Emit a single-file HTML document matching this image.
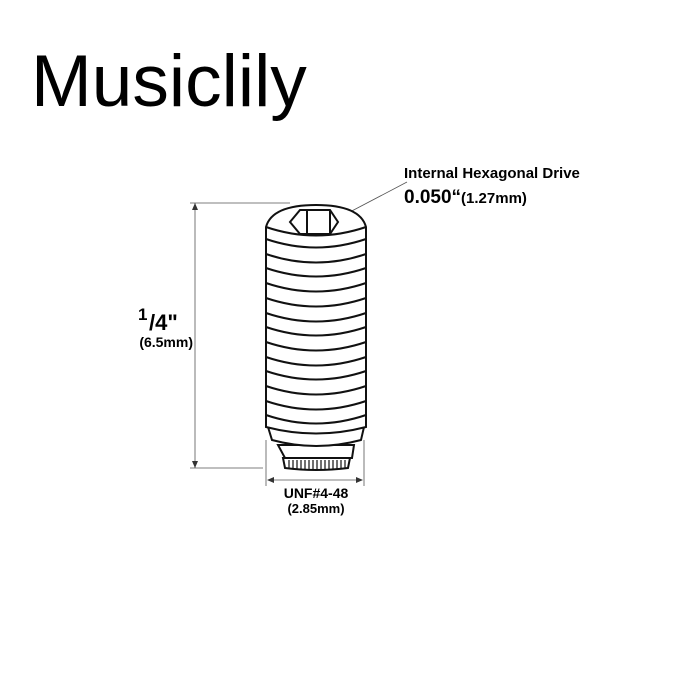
<!DOCTYPE html>
<html><head><style>
body{margin:0;background:#fff;}
svg{display:block;}
text{font-family:"Liberation Sans",Arial,sans-serif;}
</style></head><body>
<svg width="700" height="700" viewBox="0 0 700 700" xmlns="http://www.w3.org/2000/svg">
<text x="31" y="106" font-size="73" fill="#000">Musiclily</text>
<text x="404" y="178" font-size="15" font-weight="bold">Internal Hexagonal Drive</text>
<text x="404" y="203" font-size="19" font-weight="bold">0.050“<tspan font-size="15">(1.27mm)</tspan></text>
<text x="138" y="320" font-size="17" font-weight="bold">1</text>
<text x="149" y="330" font-size="22" font-weight="bold">/4"</text>
<text x="193" y="347" font-size="14" font-weight="bold" text-anchor="end">(6.5mm)</text>
<text x="316" y="498" font-size="14" font-weight="bold" text-anchor="middle">UNF#4-48</text>
<text x="316" y="513" font-size="13" font-weight="bold" text-anchor="middle">(2.85mm)</text>
<g stroke="#555" stroke-width="0.8" fill="none">
<line x1="195" y1="203" x2="195" y2="468"/>
<line x1="190" y1="203" x2="290" y2="203"/>
<line x1="190" y1="468" x2="263" y2="468"/>
<line x1="266" y1="440" x2="266" y2="486"/>
<line x1="364" y1="440" x2="364" y2="486"/>
<line x1="268" y1="480" x2="362" y2="480"/>
<line x1="407" y1="182" x2="327" y2="224"/>
</g>
<g fill="#333">
<polygon points="195,203 192,210 198,210"/>
<polygon points="195,468 192,461 198,461"/>
<polygon points="267,480 274,477 274,483"/>
<polygon points="363,480 356,477 356,483"/>
<polygon points="325,225 330,219 332,224"/>
</g>
<g stroke="#111" stroke-width="2" fill="#fff">
<path d="M278,445 L354,445 L352,458 L285,458 Z"/>
<path d="M283,458 L350,458 L348,468 Q316,472 285,468 Z"/>
<path d="M268,427 Q316,437 364,427 L361,440 Q316,452 272,440 Z"/>
<path d="M266,227 Q272,205 316,205 Q360,205 366,227 L366,427 Q316,440 266,427 Z"/>
<path d="M266,227 Q316,244 366,227" fill="none"/>
<path d="M290,222 L300,210 L330,210 L338,222 L330,234 L300,234 Z"/>
<line x1="307" y1="211" x2="307" y2="233"/>
<line x1="330" y1="210" x2="330" y2="234"/>
</g>
<g stroke="#111" stroke-width="2" fill="none">
<path d="M266,239 Q316,256 366,239"/>
<path d="M266,254 Q316,271 366,254"/>
<path d="M266,268 Q316,285 366,268"/>
<path d="M266,283 Q316,300 366,283"/>
<path d="M266,298 Q316,315 366,298"/>
<path d="M266,313 Q316,330 366,313"/>
<path d="M266,327 Q316,344 366,327"/>
<path d="M266,342 Q316,359 366,342"/>
<path d="M266,357 Q316,374 366,357"/>
<path d="M266,371 Q316,388 366,371"/>
<path d="M266,386 Q316,403 366,386"/>
<path d="M266,401 Q316,418 366,401"/>
<path d="M266,415 Q316,432 366,415"/>
</g>
<g stroke="#111" stroke-width="1.2">
<line x1="289" y1="460" x2="289" y2="468"/><line x1="293" y1="460" x2="293" y2="469"/>
<line x1="297" y1="460" x2="297" y2="469"/><line x1="301" y1="460" x2="301" y2="470"/>
<line x1="305" y1="460" x2="305" y2="470"/><line x1="309" y1="460" x2="309" y2="470"/>
<line x1="313" y1="460" x2="313" y2="470"/><line x1="317" y1="460" x2="317" y2="470"/>
<line x1="321" y1="460" x2="321" y2="470"/><line x1="325" y1="460" x2="325" y2="470"/>
<line x1="329" y1="460" x2="329" y2="470"/><line x1="333" y1="460" x2="333" y2="469"/>
<line x1="337" y1="460" x2="337" y2="469"/><line x1="341" y1="460" x2="341" y2="468"/>
<line x1="345" y1="460" x2="345" y2="468"/>
</g>
</svg>
</body></html>
